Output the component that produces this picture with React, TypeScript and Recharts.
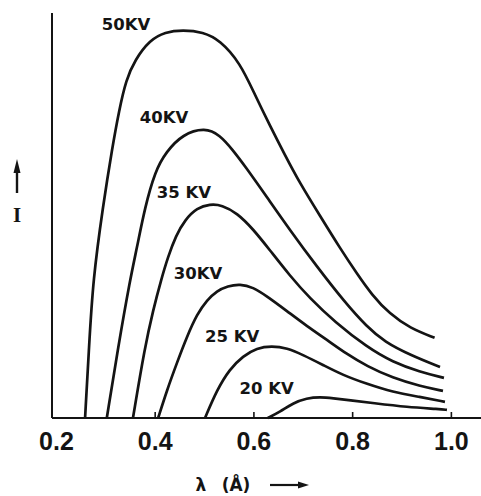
import React from 'react';
import { LineChart, Line, XAxis, YAxis, ReferenceDot } from 'recharts';

// Wavelength (Å) and relative intensity for each tube voltage
const lam50 = [0.258, 0.266, 0.274, 0.294, 0.313, 0.327, 0.341, 0.359, 0.389, 0.420, 0.456, 0.497, 0.531, 0.572, 0.602, 0.632, 0.663, 0.693, 0.734, 0.774, 0.809, 0.839, 0.875, 0.916, 0.966];
const int50 = [0, 17.5, 34.1, 52.1, 66.7, 76.0, 83.5, 88.4, 93.3, 95.3, 95.8, 95.3, 93.3, 87.7, 79.8, 72.3, 64.9, 58.0, 49.9, 42.0, 35.6, 30.4, 25.7, 22.2, 19.8];

const lam40 = [0.302, 0.325, 0.349, 0.363, 0.379, 0.400, 0.422, 0.456, 0.501, 0.531, 0.557, 0.582, 0.626, 0.673, 0.728, 0.784, 0.829, 0.865, 0.916, 0.977];
const int40 = [0, 17.5, 34.1, 42.0, 51.9, 61.0, 65.7, 70.1, 71.7, 69.9, 66.2, 62.2, 54.6, 46.4, 37.3, 28.6, 22.5, 18.8, 15.6, 12.6];

const lam35 = [0.355, 0.379, 0.396, 0.412, 0.426, 0.442, 0.460, 0.485, 0.511, 0.535, 0.566, 0.598, 0.632, 0.673, 0.713, 0.764, 0.829, 0.881, 0.936, 0.985];
const int35 = [0, 17.5, 26.7, 34.1, 39.8, 45.0, 48.9, 51.9, 52.8, 52.6, 50.6, 46.7, 41.5, 35.1, 29.6, 23.7, 17.5, 13.8, 11.4, 9.9];

const lam30 = [0.406, 0.424, 0.444, 0.464, 0.485, 0.505, 0.525, 0.547, 0.572, 0.598, 0.626, 0.667, 0.707, 0.748, 0.788, 0.829, 0.881, 0.936, 0.983];
const int30 = [0, 6.9, 13.6, 20.0, 25.7, 29.1, 31.4, 32.6, 33.1, 32.3, 30.1, 26.4, 22.7, 19.3, 15.8, 12.8, 9.9, 7.9, 6.7];

const lam25 = [0.501, 0.525, 0.551, 0.578, 0.606, 0.636, 0.667, 0.699, 0.740, 0.780, 0.829, 0.881, 0.936, 0.987];
const int25 = [0, 6.9, 12.1, 15.3, 17.3, 17.8, 17.3, 15.6, 13.1, 10.6, 8.4, 6.4, 5.2, 4.0];

const lam20 = [0.628, 0.653, 0.679, 0.707, 0.734, 0.760, 0.794, 0.841, 0.910, 0.977, 0.991];
const int20 = [0, 1.5, 3.7, 4.9, 5.2, 4.9, 4.4, 3.7, 2.7, 2.2, 2.0];

// Curve labels and where they sit (λ, I)
const kvLabels = ['50KV', '40KV', '35 KV', '30KV', '25 KV', '20 KV'];
const kvLabelLam = [0.341, 0.418, 0.458, 0.487, 0.556, 0.626];
const kvLabelI = [97.3, 74.4, 55.8, 35.8, 20.1, 7.3];

const xTicks = [0.2, 0.4, 0.6, 0.8, 1.0];
const xDomain = [0.191, 1.06];
const yDomain = [0, 100];

const toPoints = (lam: number[], inten: number[]) => lam.map((l, i) => ({ x: l, y: inten[i] }));

const series = [
  toPoints(lam50, int50),
  toPoints(lam40, int40),
  toPoints(lam35, int35),
  toPoints(lam30, int30),
  toPoints(lam25, int25),
  toPoints(lam20, int20),
];

const INK = '#141414';

const XTick = (props: any) => {
  const { x, y, payload } = props;
  const v = payload.value as number;
  return (
    <g>
      {v > 0.2 && <line x1={x} x2={x} y1={y} y2={y - 6} stroke={INK} strokeWidth={1.6} />}
      <text
        x={x}
        y={y + 32}
        textAnchor="middle"
        fontFamily="'Liberation Sans', Arial, sans-serif"
        fontWeight="bold"
        fontSize={25}
        fill={INK}
      >
        {v.toFixed(1)}
      </text>
    </g>
  );
};

const XLabel = (props: any) => {
  const vb = props.viewBox || { x: 52, y: 418 };
  const x0 = vb.x;
  const y0 = vb.y;
  const base = y0 + 73;
  const ay = y0 + 67;
  return (
    <g>
      <text x={x0 + 149} y={base} textAnchor="middle" fontFamily="'DejaVu Sans', sans-serif" fontWeight="bold" fontSize={17} fill={INK}>
        λ
      </text>
      <text x={x0 + 184} y={base} textAnchor="middle" fontFamily="'DejaVu Sans', sans-serif" fontWeight="bold" fontSize={17} fill={INK}>
        (Å)
      </text>
      <line x1={x0 + 218} x2={x0 + 248} y1={ay} y2={ay} stroke={INK} strokeWidth={2.2} />
      <polygon points={`${x0 + 257},${ay} ${x0 + 246},${ay - 3.5} ${x0 + 246},${ay + 3.5}`} fill={INK} />
    </g>
  );
};

const YLabel = (props: any) => {
  const vb = props.viewBox || { x: 0, y: 13 };
  const cx = vb.x + 17;
  const y0 = vb.y;
  return (
    <g>
      <line x1={cx} x2={cx} y1={y0 + 180} y2={y0 + 157} stroke={INK} strokeWidth={2.4} />
      <polygon points={`${cx},${y0 + 146} ${cx - 3.5},${y0 + 160} ${cx + 3.5},${y0 + 160}`} fill={INK} />
      <text x={cx} y={y0 + 209} textAnchor="middle" fontFamily="'Liberation Serif', serif" fontWeight="bold" fontSize={21} fill={INK}>
        I
      </text>
    </g>
  );
};

export default function App() {
  return (
    <div style={{ position: 'absolute', left: 0, top: 0, width: 481, height: 496, background: '#fff' }}>
      <LineChart width={481} height={496} margin={{ top: 13, right: 0, bottom: 0, left: 0 }}>
        <XAxis
          type="number"
          dataKey="x"
          domain={xDomain}
          ticks={xTicks}
          interval={0}
          allowDataOverflow
          height={78}
          tickLine={false}
          tickSize={0}
          tickMargin={0}
          tick={<XTick />}
          axisLine={{ stroke: INK, strokeWidth: 2 }}
          label={<XLabel />}
        />
        <YAxis
          type="number"
          dataKey="y"
          domain={yDomain}
          width={52}
          tick={false}
          tickLine={false}
          axisLine={{ stroke: INK, strokeWidth: 2 }}
          label={<YLabel />}
        />
        {series.map((d, i) => (
          <Line
            key={kvLabels[i]}
            data={d}
            dataKey="y"
            type="basis"
            stroke={INK}
            strokeWidth={2.7}
            dot={false}
            activeDot={false}
            isAnimationActive={false}
          />
        ))}
        {kvLabels.map((t, i) => (
          <ReferenceDot
            key={t}
            x={kvLabelLam[i]}
            y={kvLabelI[i]}
            r={0}
            fill="none"
            stroke="none"
            label={{
              value: t,
              position: 'center',
              fill: INK,
              fontSize: 16.5,
              fontWeight: 'bold',
              fontFamily: "'DejaVu Sans', sans-serif",
            }}
          />
        ))}
      </LineChart>
    </div>
  );
}
